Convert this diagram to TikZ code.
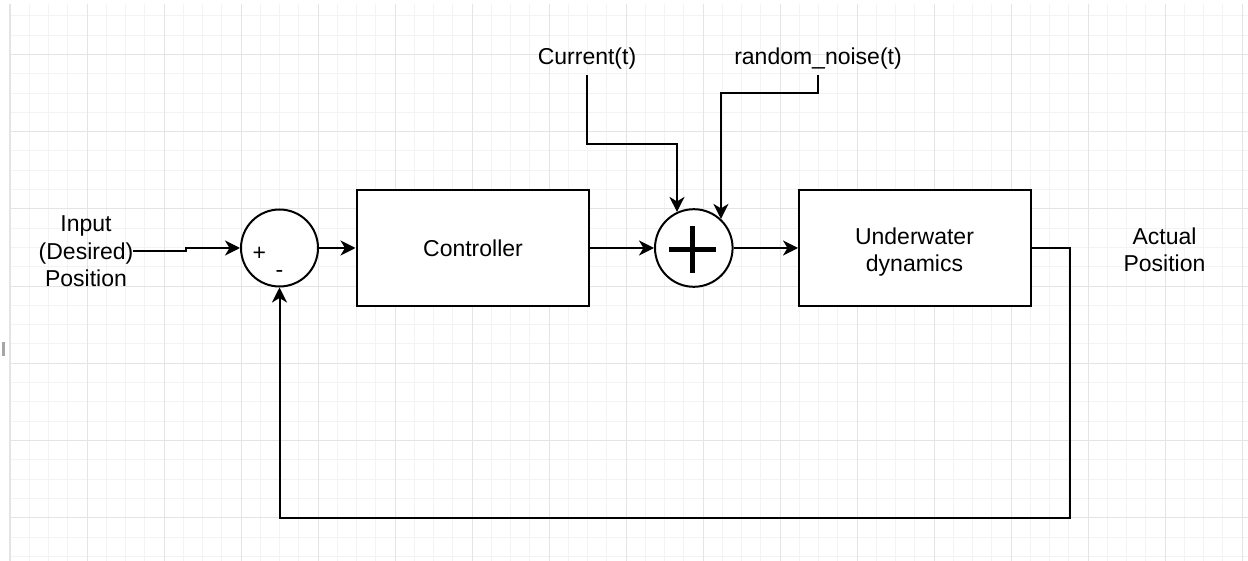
\documentclass[tikz,border=0pt]{standalone}
\usepackage{fontspec}
\setmainfont{Liberation Sans}
\usetikzlibrary{arrows.meta,calc}

\definecolor{gridminor}{HTML}{F3F3F3}
\definecolor{gridmajor}{HTML}{E4E4E4}

\tikzset{
  minorline/.style={draw=gridminor,line width=1pt},
  majorline/.style={draw=gridmajor,line width=1pt},
  txt/.style={font=\fontsize{23}{27.5}\selectfont},
  lbl/.style={txt,align=center,inner sep=0pt},
  toplbl/.style={lbl,anchor=base,outer sep=5pt},
  blockbox/.style={draw=black,line width=2pt,fill=white,minimum width=232pt,minimum height=116pt,inner sep=0pt},
  sumnode/.style={draw=black,line width=2pt,fill=white,circle,inner sep=0pt,minimum size=77pt},
  sign/.style={txt,inner sep=0pt,anchor=base},
  wire/.style={draw=black,line width=2pt},
  arr/.style={wire,-{Stealth[length=15pt,width=15pt,inset=4.5pt]}},
}

\begin{document}
\begin{tikzpicture}[x=1pt,y=-1pt]
  % page background
  \fill[white] (0,0) rectangle (1248,561);
  \useasboundingbox (0,0) rectangle (1248,561);

  % drawing grid
  \foreach \k in {0,...,64}
    \draw[minorline] ({10+19.25*\k},4) -- ({10+19.25*\k},561);
  \foreach \j in {-2,...,26}
    \draw[minorline] (10,{54.5+19.3*\j}) -- (1248,{54.5+19.3*\j});
  \foreach \k in {0,...,16}
    \draw[majorline] ({10+77*\k},4) -- ({10+77*\k},561);
  \foreach \j in {0,...,6}
    \draw[majorline] (10,{54.5+77.2*\j}) -- (1248,{54.5+77.2*\j});
  \draw[draw=gridmajor,line width=2pt] (10,4) -- (10,561);

  % small cursor mark at the left edge
  \fill[gray!70] (2,342) rectangle (5,356);

  % blocks and their labels
  \node[lbl] (in) at (86,251.5) {Input\\(Desired)\\Position};
  \node[sumnode] (sum1) at (279.5,248) {};
  \node[sign] (plus1) at (259.3,260.2) {+};
  \node[sign] (minus1) at (279.5,277.5) {-};
  \node[blockbox] (ctrl) at (472.5,248) {};
  \node[lbl] (ctrltxt) at (473,248.2) {Controller};
  \node[sumnode,minimum size=77.6pt] (sum2) at (693.8,248) {};
  \draw[line width=4.8pt] (669.1,249.4) -- (716.1,249.4)
                          (692.6,225.9) -- (692.6,272.9);
  \node[blockbox] (plant) at (915,248) {};
  \node[lbl] (planttxt) at (914.5,252) {Underwater\\dynamics};
  \node[lbl] (out) at (1164.5,250) {Actual\\Position};
  \node[toplbl] (cur) at (587,65) {Current(t)};
  \node[toplbl] (noise) at (818,65) {random\_noise(t)};

  % signal paths
  \draw[arr] (in.east) -- ++(53,0) |- (sum1.west);
  \draw[arr] (sum1.east) -- (ctrl.west);
  \draw[arr] (ctrl.east) -- (sum2.west);
  \draw[arr] (sum2.east) -- (plant.west);
  \draw[arr] (cur.south) -- ++(0,69) -| (sum2.115.7);
  \draw[arr] (noise.south) -- ++(0,18) -| (sum2.47.5);
  \draw[arr] (plant.east) -- ++(38,0) -- ++(0,270) -| (sum1.south);
\end{tikzpicture}
\end{document}
